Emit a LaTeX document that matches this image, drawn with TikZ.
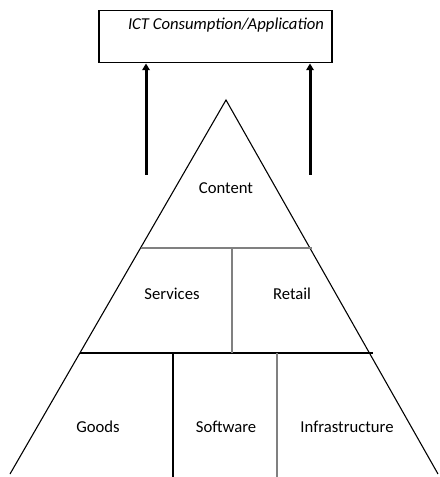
\documentclass[tikz,border=0pt]{standalone}
\usepackage{fontspec}
\setmainfont{Carlito}
\usetikzlibrary{arrows.meta}

\begin{document}
\begin{tikzpicture}[x=0.6pt, y=-0.6pt]
\tikzset{edge/.style = {-, line width=0.65pt}}
\tikzset{greyedge/.style = {-, line width=0.7pt, black!50}}
\tikzset{lbl/.style = {font=\fontsize{10}{12}\selectfont}}
\tikzset{uparrow/.style = {-{Triangle[length=4pt, width=4.5pt]}, line width=1.8pt}}
\useasboundingbox (0,0) rectangle (439,477);
\node[draw, line width=0.9pt, minimum width=139.8pt, minimum height=31.2pt, anchor=north west,
  inner sep=0pt](top) at (98,10) {};
\node[lbl, font=\fontsize{10}{12}\selectfont\itshape](ict) at (226,25) {ICT Consumption/Application};
\coordinate (a1) at (146,175);
\coordinate (a2) at (310,175);
\draw[uparrow] (a1) -- (a1 |- top.south);
\draw[uparrow] (a2) -- (a2 |- top.south);
\coordinate (apex) at (226,100);
\coordinate (bl) at (10,474);
\coordinate (br) at (438,474);
\draw[edge] (bl) -- (apex) -- (br);
\draw[greyedge] (141,248) -- (312,248);
\draw[edge] (80,353) -- (373,353);
\draw[greyedge] (232,248) -- (232,353);
\draw[edge] (173,353) -- (173,477);
\draw[greyedge] (277,353) -- (277,477);
\node[lbl](content) at (226,188) {Content};
\node[lbl](services) at (172,294) {Services};
\node[lbl](retail) at (292,294) {Retail};
\node[lbl](goods) at (98,427) {Goods};
\node[lbl](software) at (226,427) {Software};
\node[lbl](infra) at (347,427) {Infrastructure};
\end{tikzpicture}
\end{document}
